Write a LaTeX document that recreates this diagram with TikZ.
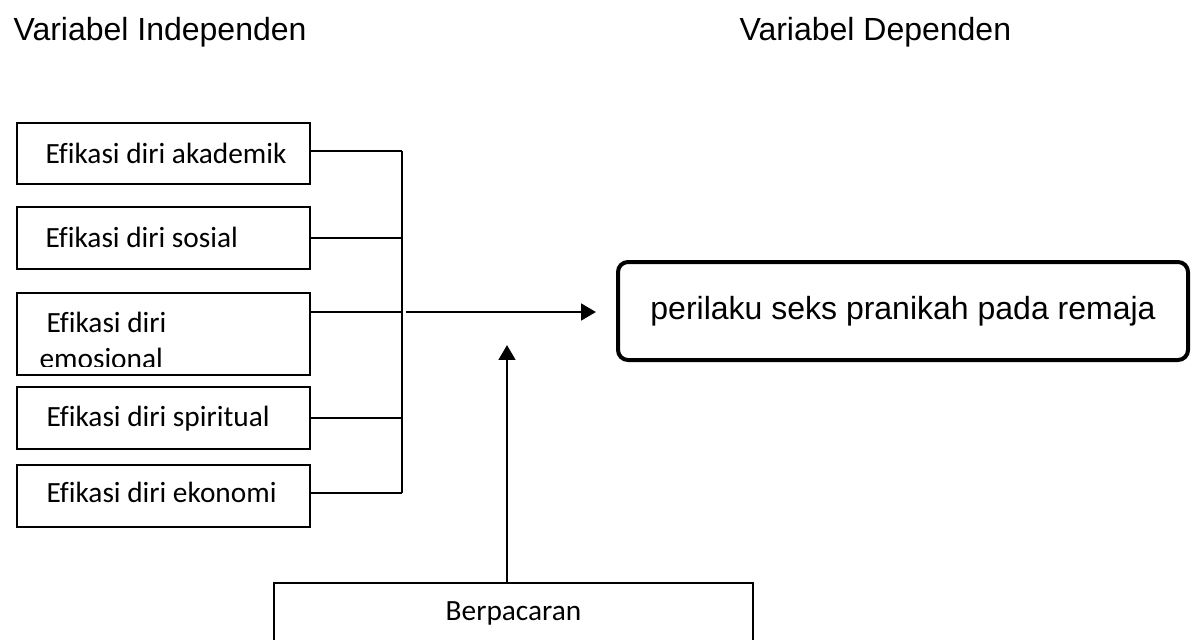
\documentclass[tikz,border=0pt]{standalone}
\usepackage{fontspec}
\setmainfont{Liberation Sans}
\newfontfamily\calfont[Ligatures=NoCommon]{Carlito}
\usetikzlibrary{arrows.meta}
\begin{document}
\begin{tikzpicture}[x=0.375pt,y=-0.375pt,
  thinbox/.style={draw,line width=0.75pt,minimum width=293*0.375pt,inner sep=0pt},
  boxtext/.style={anchor=base west,inner sep=0pt,font=\calfont\fontsize{11}{13}\selectfont},
  titletext/.style={anchor=base west,inner sep=0pt,font=\fontsize{12}{14.4}\selectfont},
  conn/.style={line width=0.75pt},
  arr/.style={line width=1.1pt,-{Triangle[length=5.6pt,width=6.2pt]}}]
\useasboundingbox (0,0) rectangle (1195,639);
\clip (0,0) rectangle (1195,639);
% titles
\node[titletext] (tind) at (13,40) {Variabel Independen};
\node[titletext] (tdep) at (739,40) {Variabel Dependen};
% independent boxes
\node[thinbox,minimum height=61*0.375pt] (b1) at (163.5,153.5) {};
\node[thinbox,minimum height=62*0.375pt] (b2) at (163.5,238) {};
\node[thinbox,minimum height=82*0.375pt] (b3) at (163.5,334) {};
\node[thinbox,minimum height=62*0.375pt] (b4) at (163.5,418) {};
\node[thinbox,minimum height=62*0.375pt] (b5) at (163.5,496) {};
\node[boxtext] (t1) at (45,163) {Efikasi diri akademik};
\node[boxtext] (t2) at (45,247) {Efikasi diri sosial};
\begin{scope}
\clip (17,293) rectangle (310,366);
\node[boxtext] (t3a) at (46,332) {Efikasi diri};
\node[boxtext] (t3b) at (39,368) {emosional};
\end{scope}
\node[boxtext] (t4) at (46,426) {Efikasi diri spiritual};
\node[boxtext] (t5) at (46,502) {Efikasi diri ekonomi};
% bus
\coordinate (bx) at (402,0);
\coordinate (j1) at (402,151);
\coordinate (j3) at (402,312);
\coordinate (j5) at (402,493);
\draw[conn] (b1.east |- j1) -- (j1);
\draw[conn] (b2.east) -- (b2.east -| bx);
\draw[conn] (b3.east |- j3) -- (j3);
\draw[conn] (b4.east) -- (b4.east -| bx);
\draw[conn] (b5.east |- j5) -- (j5);
\draw[conn] (j1) -- (j5);
% dependent box
\node[draw,line width=1.5pt,rounded corners=3.75pt,minimum width=570*0.375pt,minimum height=98*0.375pt,
  font=\fontsize{12}{14.4}\selectfont] (dep) at (903,311) {perilaku seks pranikah pada remaja};
\coordinate (a0) at (406,312);
\draw[arr,shorten >=7.5pt] (a0) -- (a0 -| dep.west);
% moderator box
\node[draw,line width=0.75pt,minimum width=479*0.375pt,minimum height=120*0.375pt,anchor=north] (berp) at (513.5,582) {};
\node[anchor=base,inner sep=0pt,font=\calfont\fontsize{11}{13}\selectfont] (tberp) at (513.5,620) {Berpacaran};
\coordinate (vtip) at (507,345);
\draw[arr] (vtip |- berp.north) -- (vtip);
\end{tikzpicture}
\end{document}
